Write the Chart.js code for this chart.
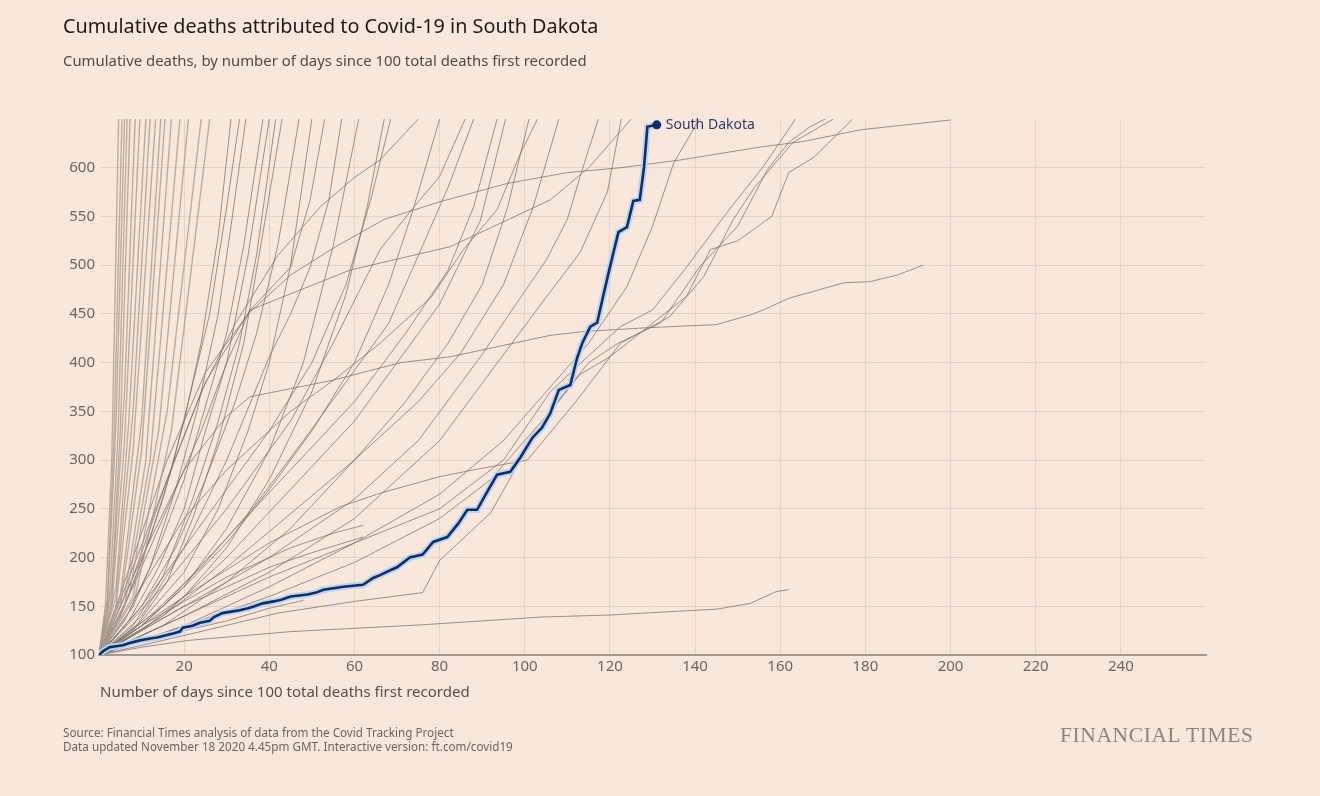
<!DOCTYPE html>
<html>
<head>
<meta charset="utf-8">
<script src="https://cdn.jsdelivr.net/npm/chart.js@4.4.0/dist/chart.umd.min.js"></script>
<style>
  body { margin: 0; background: #f9e7dc; }
  #wrap { position: relative; width: 1320px; height: 796px; background: #f9e7dc; overflow: hidden; font-family: "Noto Sans", sans-serif; }
  #chart { position: absolute; left: 0; top: 0; }
  .t { position: absolute; white-space: nowrap; }
  #title { left: 63px; top: 12px; font-size: 19.8px; color: #1d1b1a; }
  #subtitle { left: 63px; top: 50px; font-size: 14.9px; color: #4f4a47; }
  #xtitle { left: 100px; top: 681px; font-size: 15px; color: #55504c; }
  #source { left: 63px; top: 725px; font-size: 11.7px; line-height: 14px; color: #6b645f; }
  #ft { left: 1060px; top: 723px; font-size: 21.5px; color: #8a8581; font-family: "Liberation Serif", serif; letter-spacing: 0.6px; }
</style>
</head>
<body>
<div id="wrap">
  <canvas id="chart" width="1320" height="796"></canvas>
  <div class="t" id="title">Cumulative deaths attributed to Covid-19 in South Dakota</div>
  <div class="t" id="subtitle">Cumulative deaths, by number of days since 100 total deaths first recorded</div>
  <div class="t" id="xtitle">Number of days since 100 total deaths first recorded</div>
  <div class="t" id="source">Source: Financial Times analysis of data from the Covid Tracking Project<br>Data updated November 18 2020 4.45pm GMT. Interactive version: ft.com/covid19</div>
  <div class="t" id="ft">FINANCIAL TIMES</div>
</div>
<script>
// South Dakota
const sdDays   = [0, 1, 2.5, 5.6, 7, 9.6, 12, 13.6, 15.5, 17.4, 19, 19.7, 22, 23.7, 26, 27, 29, 33, 35, 36.5, 38.5, 41, 43, 45, 49, 51, 52.7, 57.4, 62, 64.4, 66, 68.4, 70, 73, 76, 78.5, 81.8, 84.4, 86.5, 88.8, 91, 93.5, 96.6, 99, 101.8, 104, 106, 108, 110.7, 112.3, 113.5, 115.4, 117, 118.5, 120, 122, 124, 125.5, 127, 128, 128.8, 131]
const sdDeaths = [100, 104, 108, 110, 112, 115, 117, 118, 120, 122, 124, 128, 130, 133, 135, 139, 143, 146, 148, 150, 153, 155, 157, 160, 162, 164, 167, 170, 172, 179, 182, 187, 190, 200, 203, 216, 221, 235, 249, 249, 266, 285, 288, 303, 323, 333, 348, 372, 377, 405, 420, 437, 441, 470, 498, 534, 539, 566, 567, 600, 642, 644]

// other states, [day, deaths]
const steep1 = [[0,100],[1.5,150],[3,300],[4.6,650],[4.8,720]]
const steep2 = [[0,100],[2,160],[3.5,320],[5.4,650],[5.6,720]]
const steep3 = [[0,100],[2,150],[4,340],[6,650],[6.3,720]]
const steep4 = [[0,100],[2.5,160],[4.5,330],[6.6,650],[6.9,720]]
const steep5 = [[0,100],[3,170],[5,330],[7.3,650],[7.6,720]]
const steep6 = [[0,100],[3,160],[6,370],[8.5,650],[8.8,720]]
const steep7 = [[0,100],[3,150],[6,320],[9.6,650],[10,720]]
const steep8 = [[0,100],[4,170],[7,340],[11,650],[11.5,720]]
const steep9 = [[0,100],[4,160],[8,350],[12,650],[12.5,720]]
const steep10 = [[0,100],[4,150],[8,310],[13.3,650],[13.8,720]]
const steep11 = [[0,100],[5,160],[10,340],[14.5,650],[15,720]]
const steep12 = [[0,100],[5,150],[10,310],[15.5,650],[16,720]]
const steep13 = [[0,100],[6,160],[11,300],[17,650],[17.6,720]]
const steep14 = [[0,100],[6,150],[12,300],[19,650],[19.6,720]]
const steep15 = [[0,100],[7,160],[14,330],[21,650],[21.7,720]]
const steep16 = [[0,100],[8,160],[16,350],[24,650],[24.8,720]]
const steep17 = [[0,100],[8,150],[17,330],[26,650],[26.8,720]]

const mid1 = [[0,100],[5,140],[10,195],[15,260],[20,340],[24,420],[28,530],[31,650],[32,690]]
const mid2 = [[0,100],[6,150],[12,220],[17,290],[21,360],[26,450],[30,560],[33,650],[34,690]]
const mid3 = [[0,100],[6,135],[12,190],[18,270],[23,350],[28,450],[31,540],[34.5,650],[35.5,690]]
const mid4 = [[0,100],[8,150],[14,210],[20,280],[26,370],[30,430],[34,520],[38.5,650],[39.5,690]]
const mid5 = [[0,100],[7,135],[14,190],[20,250],[25,330],[30,400],[35,510],[40,650],[41,690]]
const mid6 = [[0,100],[8,130],[15,180],[22,260],[28,340],[33,420],[37,510],[41.5,650],[42.5,690]]
const mid7 = [[0,100],[8,125],[16,175],[22,240],[28,320],[34,420],[38,520],[43,650],[44,690]]
const mid8 = [[0,100],[10,150],[18,210],[25,280],[32,360],[37,430],[42,520],[47,650],[48,690]]
const mid9 = [[0,100],[10,140],[20,210],[30,300],[40,406],[45,450],[49.6,498],[54,567],[57,650],[58,690]]
const mid10 = [[0,100],[8,170],[16,250],[24,330],[30,400],[35.5,454],[45,498],[49.6,567],[53,650],[54,690]]
const mid11 = [[0,100],[10,135],[20,185],[28,250],[35,330],[40,400],[45,500],[50,650],[51,690]]
const mid12 = [[0,100],[10,130],[20,170],[30,230],[40,310],[48,400],[55,520],[61,650],[62,690]]

const late1 = [[0,100],[10,125],[20,160],[30,210],[40,280],[50,370],[58,470],[63,560],[67,650],[68,680]]
const late2 = [[0,100],[10,150],[20,210],[30,270],[40,330],[50,400],[58,480],[64,570],[68.5,650],[69.5,680]]
const late3 = [[0,100],[8,180],[16,280],[24,370],[32,440],[42,510],[52,560],[60,590],[66,608],[72,636],[75,650],[76,660]]
const late4 = [[0,100],[10,130],[20,170],[30,215],[40,270],[50,330],[60,400],[68,480],[74,560],[80,650],[81,670]]
const late5 = [[0,100],[15,170],[30,250],[45,340],[55,420],[66,516],[74,560],[80,591],[86,650],[87,670]]
const late6 = [[0,100],[12,140],[24,190],[36,250],[48,320],[58,380],[68,440],[76,520],[82,580],[88,650],[89,670]]
const late7 = [[0,100],[15,150],[30,220],[45,290],[60,360],[72,430],[82,495],[88,560],[93.5,650],[94.5,670]]
const late8 = [[0,100],[15,140],[30,200],[45,270],[60,340],[70,400],[80,460],[89.6,546],[95.5,650],[96.5,670]]
const late9 = [[0,100],[15,130],[30,175],[45,230],[60,300],[72,360],[82,420],[90,480],[96,560],[101,650],[102,670]]
const late10 = [[0,100],[10,170],[20,240],[30,290],[45,350],[56,385],[66,420],[78,467],[85.6,516],[93.5,557],[99,615],[103,650],[104,670]]
const late11 = [[0,100],[15,140],[30,190],[45,245],[60,300],[75,360],[85,410],[95,480],[102,560],[108,650],[109,670]]
const late12 = [[0,100],[20,150],[40,200],[60,260],[75,320],[89.6,406],[97,454],[105,505],[110,547],[113,591],[117,646],[118,660]]
const late13 = [[0,100],[20,140],[40,185],[60,240],[80,320],[97,420],[105,467],[113,513],[119.4,575],[122.5,646],[123,660]]
const late14 = [[0,100],[8,190],[16,280],[25,380],[35.5,454],[59,495],[82.5,519],[106,567],[115,600],[125,650],[126,660]]

const right1 = [[0,100],[20,130],[40,170],[60,215],[80,265],[95,320],[105,370],[115,420],[124,478],[130,540],[135,605],[141,650],[142,660]]
const right2 = [[0,100],[20,140],[40,180],[60,215],[80,250],[95,300],[106,370],[114,403],[122.5,437],[130,454],[138,498],[148,557],[156,601],[163,646],[165,665]]
const right3 = [[0,100],[20,160],[40,215],[56.6,252],[66,266],[80,283],[88,290],[100.6,300],[112,360],[122.5,420],[134,447],[142,488],[149,547],[154,580],[163,626],[172.5,650],[174,660]]
const right4 = [[0,100],[20,120],[42,143],[60,155],[76,164],[80,197],[92,246],[99,300],[104,333],[107,355],[113,388],[120,406],[129,437],[138,468],[143.6,516],[150,525],[158,550],[162,595],[168,611],[177,650],[178,660]]
const right5 = [[0,100],[20,130],[40,160],[60,195],[80,240],[92,280],[104,340],[115,400],[122,420],[132,441],[141,498],[150,540],[157,598],[162,626],[167,642],[171,651]]
const longFlat = [[0,100],[8,200],[16,300],[25,390],[35,450],[45,490],[56,520],[67,547],[80,565],[96,584],[110,595],[122.5,600],[136.6,608],[155,621],[165.5,627],[179,639],[200,649]]
const longMid = [[0,100],[10,200],[20,290],[30,345],[35.5,365],[55,382],[70.8,400],[82.5,406],[106,428],[114,432],[129.5,436],[145,439],[153,449],[156,454],[162,466],[175,482],[181,483],[187.6,490],[193.5,500]]
const longLow = [[0,100],[10,108],[21,115],[45,124],[76,131],[104,139],[120,141],[128,143],[145,147],[153,153],[159,165],[162,167]]

const short1 = [[0,100],[10,125],[20,150],[30,170],[40,190],[50,205],[62,221]]
const short2 = [[0,100],[10,130],[20,155],[30,180],[45,210],[55,225],[62,233]]
const short3 = [[0,100],[10,115],[20,125],[30,135],[40,148],[48,156]]

const steepLines = [steep1, steep2, steep3, steep4, steep5, steep6, steep7, steep8, steep9, steep10, steep11, steep12, steep13, steep14, steep15, steep16, steep17]
const otherLines = [mid1, mid2, mid3, mid4, mid5, mid6, mid7, mid8, mid9, mid10, mid11, mid12,
  late1, late2, late3, late4, late5, late6, late7, late8, late9, late10, late11, late12, late13, late14,
  right1, right2, right3, right4, right5, longFlat, longMid, longLow, short1, short2, short3]

const xTicks = [20, 40, 60, 80, 100, 120, 140, 160, 180, 200, 220, 240]
const yTicks = [100, 150, 200, 250, 300, 350, 400, 450, 500, 550, 600]

const toPts = arr => arr.map(p => ({ x: p[0], y: p[1] }))
const sdPts = sdDays.map((d, i) => ({ x: d, y: sdDeaths[i] }))

let datasets = [
  {
    data: sdPts, borderColor: '#0e2d6b', borderWidth: 2.6, order: 0,
    pointRadius: ctx => ctx.dataIndex === sdPts.length - 1 ? 4.5 : 0,
    pointBackgroundColor: '#0e2d6b', pointBorderWidth: 0
  },
  { data: sdPts, borderColor: 'rgba(185,212,238,0.95)', borderWidth: 6.5, pointRadius: 0, order: 1 }
]
steepLines.forEach(l => datasets.push({ data: toPts(l), borderColor: 'rgba(165,152,142,0.75)', borderWidth: 1.4, pointRadius: 0, order: 2 }))
otherLines.forEach(l => datasets.push({ data: toPts(l), borderColor: 'rgba(118,110,104,0.72)', borderWidth: 1, pointRadius: 0, order: 2 }))

const sdLabel = {
  id: 'sdLabel',
  afterDatasetsDraw(chart) {
    let meta = chart.getDatasetMeta(0)
    let pt = meta.data[meta.data.length - 1]
    let ctx = chart.ctx
    ctx.save()
    ctx.font = '14px "Noto Sans"'
    ctx.fillStyle = '#2a3d63'
    ctx.textBaseline = 'middle'
    ctx.fillText('South Dakota', pt.x + 9, pt.y)
    ctx.restore()
  }
}

const tickFont = { family: 'Noto Sans', size: 15 }

new Chart(document.getElementById('chart'), {
  type: 'line',
  data: { datasets },
  plugins: [sdLabel],
  options: {
    responsive: false,
    animation: false,
    layout: { padding: { top: 119, right: 114, bottom: 111, left: 0 } },
    plugins: { legend: { display: false }, tooltip: { enabled: false } },
    elements: { line: { tension: 0 } },
    scales: {
      x: {
        type: 'linear', min: 0, max: 260,
        afterBuildTicks: s => { s.ticks = [0].concat(xTicks, [260]).map(v => ({ value: v })) },
        afterFit: s => { s.height = 30 },
        ticks: { autoSkip: false, maxRotation: 0, padding: 3, color: '#6d655f', font: tickFont,
          callback: v => xTicks.includes(v) ? v : '' },
        grid: { drawTicks: false, lineWidth: 1,
          color: c => xTicks.includes(c.tick.value) ? '#e6d2c6' : 'rgba(0,0,0,0)' },
        border: { display: true, color: '#a39a93', width: 2 }
      },
      y: {
        type: 'linear', min: 100, max: 650,
        afterBuildTicks: s => { s.ticks = yTicks.concat([650]).map(v => ({ value: v })) },
        afterFit: s => { s.width = 99 },
        ticks: { padding: 4, color: '#6d655f', font: tickFont,
          callback: v => yTicks.includes(v) ? v : '' },
        grid: { drawTicks: false, lineWidth: 1,
          color: c => (c.tick.value > 100 && c.tick.value < 650) ? '#e6d2c6' : 'rgba(0,0,0,0)' },
        border: { display: false }
      }
    }
  }
})
</script>
</body>
</html>
